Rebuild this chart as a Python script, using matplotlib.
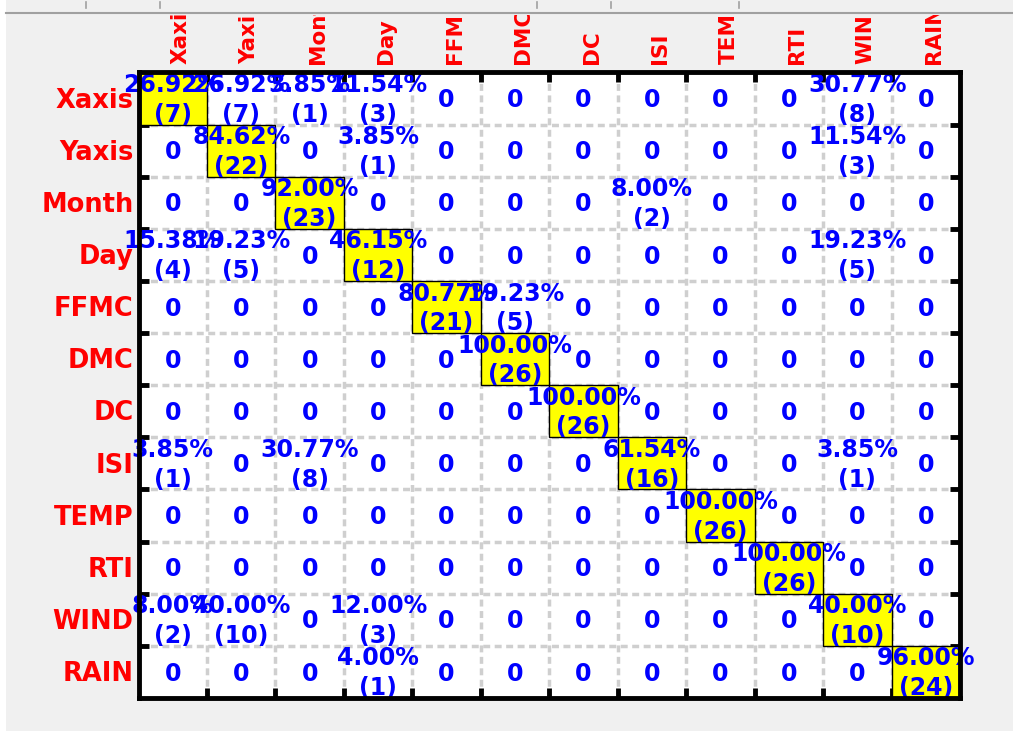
import numpy as np
import matplotlib
matplotlib.use("Agg")
import matplotlib.pyplot as plt
from matplotlib.patches import Rectangle
from matplotlib.lines import Line2D
from matplotlib.transforms import Bbox, TransformedBbox, blended_transform_factory

# class names (true rows / predicted columns)
row_names = ['Xaxis', 'Yaxis', 'Month', 'Day', 'FFMC', 'DMC', 'DC', 'ISI',
             'TEMP', 'RTI', 'WIND', 'RAIN']
col_names = ['Xaxis', 'Yaxis', 'Month', 'Day', 'FFMC', 'DMC', 'DC', 'ISI',
             'TEMP', 'RTI', 'WIND', 'RAIN']

# confusion counts, one list per true class
xaxis_row = [7, 7, 1, 3, 0, 0, 0, 0, 0, 0, 8, 0]
yaxis_row = [0, 22, 0, 1, 0, 0, 0, 0, 0, 0, 3, 0]
month_row = [0, 0, 23, 0, 0, 0, 0, 2, 0, 0, 0, 0]
day_row = [4, 5, 0, 12, 0, 0, 0, 0, 0, 0, 5, 0]
ffmc_row = [0, 0, 0, 0, 21, 5, 0, 0, 0, 0, 0, 0]
dmc_row = [0, 0, 0, 0, 0, 26, 0, 0, 0, 0, 0, 0]
dc_row = [0, 0, 0, 0, 0, 0, 26, 0, 0, 0, 0, 0]
isi_row = [1, 0, 8, 0, 0, 0, 0, 16, 0, 0, 1, 0]
temp_row = [0, 0, 0, 0, 0, 0, 0, 0, 26, 0, 0, 0]
rti_row = [0, 0, 0, 0, 0, 0, 0, 0, 0, 26, 0, 0]
wind_row = [2, 10, 0, 3, 0, 0, 0, 0, 0, 0, 10, 0]
rain_row = [0, 0, 0, 1, 0, 0, 0, 0, 0, 0, 0, 24]

counts = np.array([xaxis_row, yaxis_row, month_row, day_row, ffmc_row, dmc_row,
                   dc_row, isi_row, temp_row, rti_row, wind_row, rain_row])
pct = counts / counts.sum(axis=1, keepdims=True) * 100

W, H = 1013, 731
n = len(row_names)

fig = plt.figure(figsize=(W / 100, H / 100), dpi=100, facecolor='#f0f0f0')
ax = fig.add_axes([138.5 / W, 1 - 698 / H, (960 - 138.5) / W, (698 - 72.5) / H])
ax.set_facecolor('white')
ax.set_xlim(-0.5, n - 0.5)
ax.set_ylim(n - 0.5, -0.5)

# dashed grid on the cell borders
bounds = np.arange(0.5, n - 0.5, 1)
ax.vlines(bounds, -0.5, n - 0.5, colors='#cfcfcf', linewidth=2.5,
          linestyles=(0, (2, 1.3)), zorder=1)
ax.hlines(bounds, -0.5, n - 0.5, colors='#cfcfcf', linewidth=2.5,
          linestyles=(0, (2, 1.3)), zorder=1)

# yellow diagonal cells
for i in range(n):
    ax.add_patch(Rectangle((i - 0.5, i - 0.5), 1, 1, facecolor='#ffff00',
                           edgecolor='black', linewidth=1, zorder=2))

# cell values
vfont = dict(color='#0000ff', fontsize=17, fontweight='bold', zorder=3,
             ha='center', va='center')
for i in range(n):
    for j in range(n):
        if counts[i, j] == 0:
            ax.text(j, i + 0.03, '0', **vfont)
        else:
            ax.text(j, i - 0.26, '%.2f%%' % pct[i, j], **vfont)
            ax.text(j, i + 0.31, '(%d)' % counts[i, j], **vfont)

# thick frame with inward ticks on the borders
for s in ax.spines.values():
    s.set_linewidth(3.5)
    s.set_zorder(5)
ax.set_xticks(bounds)
ax.set_yticks(bounds)
ax.set_xticklabels([])
ax.set_yticklabels([])
ax.tick_params(direction='in', length=7, width=3.5, top=True, right=True,
               bottom=True, left=True, color='black')

# row names on the left
for i, name in enumerate(row_names):
    ax.text(-0.57, i + 0.04, name, ha='right', va='center', color='#ff0000',
            fontsize=18.5, fontweight='bold')

# column names on top, cut off by the window edge
clip = TransformedBbox(Bbox([[0, 0], [1, 1 - 15 / H]]), fig.transFigure)
tr = blended_transform_factory(ax.transData, fig.transFigure)
for j, name in enumerate(col_names):
    t = fig.text(j + 0.12, 1 - 64 / H, name, rotation=90, ha='center', va='bottom',
                 color='#ff0000', fontsize=15.5, fontweight='bold', transform=tr)
    t.set_clip_box(clip)
    t.set_clip_on(True)

# window strip along the top
fig.add_artist(Line2D([6 / W, 1], [1 - 13 / H] * 2, transform=fig.transFigure,
                      color='#a0a0a0', linewidth=1.5))
for x in [86, 160, 537, 611, 739]:
    fig.add_artist(Line2D([x / W] * 2, [1 - 2 / H, 1 - 8 / H], transform=fig.transFigure,
                          color='#a0a0a0', linewidth=1.2))
fig.add_artist(Rectangle((0, 0), 6 / W, 1, transform=fig.transFigure,
                         facecolor='white', edgecolor='none'))

fig.savefig('out.png', dpi=100, facecolor=fig.get_facecolor())
